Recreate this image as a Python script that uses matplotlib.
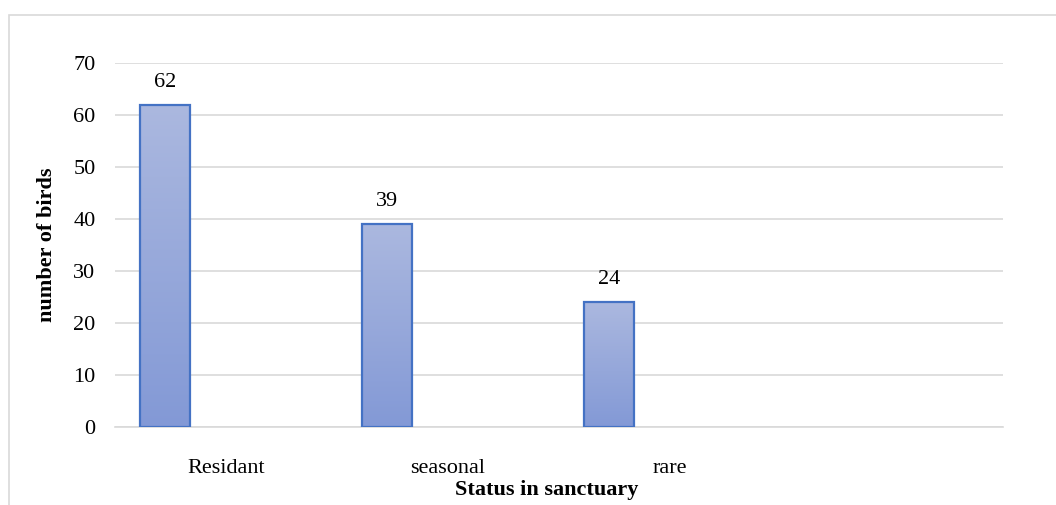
import numpy as np
import matplotlib.pyplot as plt
from matplotlib.colors import LinearSegmentedColormap
from matplotlib.patches import Rectangle

categories = ["Residant", "seasonal", "rare", ""]
values = [62, 39, 24]
y_ticks = [0, 10, 20, 30, 40, 50, 60, 70]

plt.rcParams["font.family"] = ["Liberation Serif", "DejaVu Serif"]

W, H = 1056, 505
fig = plt.figure(figsize=(W / 100, H / 100), dpi=100)

# light chart-area frame
fig.patches.append(Rectangle((9 / W, -0.05), 1.2, 1 - 15 / H + 0.05,
                             transform=fig.transFigure, fill=False,
                             edgecolor="#D9D9D9", linewidth=1.2))

ax = fig.add_axes([115 / W, 78 / H, (1003 - 115) / W, (442 - 78) / H])

n_slots = len(categories)
offset = -0.275
width = 0.225
xs = np.arange(len(values)) + offset

bars = ax.bar(xs, values, width=width, facecolor="none",
              edgecolor="#4472C4", linewidth=1.6, zorder=3)

cmap = LinearSegmentedColormap.from_list("barfill", ["#8399D6", "#ABB8DF"])
grad = np.linspace(0, 1, 256).reshape(-1, 1)
for b in bars:
    x0, y0 = b.get_x(), b.get_y()
    im = ax.imshow(grad, cmap=cmap, origin="lower", aspect="auto",
                   extent=[x0, x0 + b.get_width(), y0, y0 + b.get_height()],
                   zorder=2)
    im.set_clip_path(b)

for x, v in zip(xs, values):
    ax.annotate(str(v), (x, v), xytext=(0, 16), textcoords="offset points",
                ha="center", va="center", fontsize=16, color="#000000")

ax.set_xlim(-0.5, n_slots - 0.5)
ax.set_ylim(0, 70)
ax.set_yticks(y_ticks)
ax.set_xticks(np.arange(n_slots))
ax.set_xticklabels(categories)
ax.tick_params(axis="both", length=0, labelsize=16, colors="#000000")
ax.tick_params(axis="x", pad=23)
ax.tick_params(axis="y", pad=14)

ax.grid(axis="y", color="#D9D9D9", linewidth=1.2, zorder=0)
ax.set_axisbelow(True)
for s in ["top", "right", "left"]:
    ax.spines[s].set_visible(False)
ax.spines["bottom"].set_color("#D9D9D9")
ax.spines["bottom"].set_linewidth(1.2)

ax.set_ylabel("number of birds", fontsize=16, fontweight="bold")
ax.yaxis.set_label_coords(-(115 - 57) / (1003 - 115), 0.5)
fig.text(547 / W, 1 - 490 / H, "Status in sanctuary", ha="center",
         va="center", fontsize=16, fontweight="bold")

fig.savefig("out.png", dpi=100)
